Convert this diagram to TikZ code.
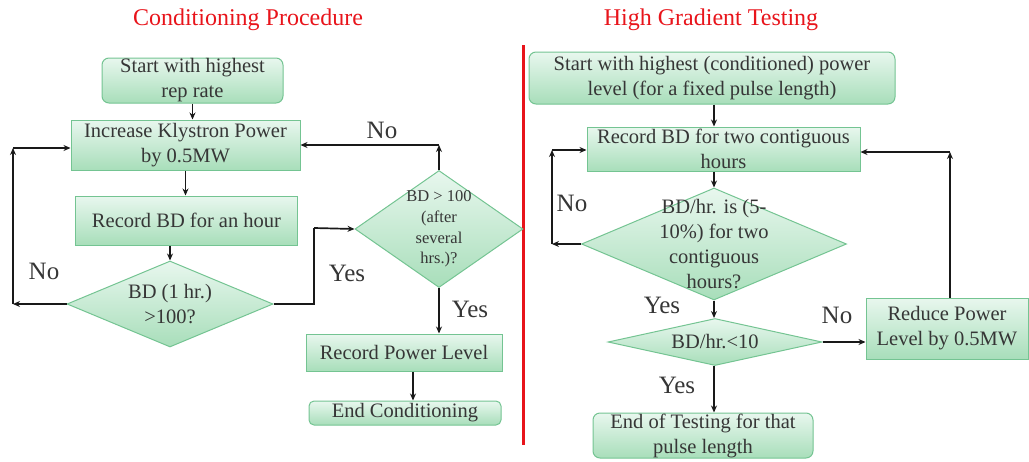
\documentclass[tikz,border=0pt]{standalone}
\usepackage{fontspec}
\setmainfont{Liberation Serif}
\newfontfamily\tnr{Liberation Serif}
\usetikzlibrary{shapes.geometric,arrows.meta}
\definecolor{gtop}{HTML}{E8F7EE}
\definecolor{gbot}{HTML}{A8DEBA}
\definecolor{gline}{HTML}{74C492}
\definecolor{txt}{HTML}{363636}
\definecolor{titlered}{HTML}{E8141B}
\begin{document}
\begin{tikzpicture}[x=1pt,y=-1pt,
  boxn/.style={draw=gline, line width=1pt, top color=gtop, bottom color=gbot,
    text=txt, align=center, inner sep=0pt, font=\tnr\fontsize{20.5}{25}\selectfont},
  rbox/.style={boxn, rounded corners=7pt},
  dia/.style={diamond, draw=gline, line width=1pt, top color=gtop, bottom color=gbot, inner sep=0pt},
  dtxt/.style={text=txt, align=center, inner sep=0pt, font=\tnr\fontsize{20.5}{25}\selectfont},
  lbl/.style={text=txt, inner sep=0pt, font=\tnr\fontsize{25}{28}\selectfont},
  ttl/.style={text=titlered, inner sep=0pt, font=\tnr\fontsize{24}{28}\selectfont},
  arr/.style={-{Stealth[length=7pt,width=6pt]}, line width=1.7pt, black!90},
  ln/.style={line width=1.7pt, black!90}]
\useasboundingbox (0,0) rectangle (1029,461);

% titles and divider
\node[ttl] (t1) at (248,20) {Conditioning Procedure};
\node[ttl] (t2) at (711,20) {High Gradient Testing};
\coordinate (redtop) at (523,45);
\coordinate (redbot) at (523,445);
\draw[titlered, line width=3pt] (redtop) -- (redbot);

% ---------- left flowchart ----------
\node[rbox, minimum width=181pt, minimum height=45pt] (sL) at (192.5,80.5) {Start with highest\\rep rate};
\node[boxn, minimum width=229pt, minimum height=50pt] (inc) at (185.5,145) {Increase Klystron Power\\by 0.5MW};
\node[boxn, minimum width=222pt, minimum height=49pt] (rec) at (186.5,220.5) {Record BD for an hour};
\node[dia, minimum width=206pt, minimum height=86pt] (d1) at (170,304) {};
\node[dtxt] (d1t) at (170,304) {BD (1 hr.)\\>100?};
\node[dia, minimum width=168pt, minimum height=117pt] (d2) at (439,229) {};
\node[dtxt, font=\tnr\fontsize{16.5}{20.7}\selectfont] (d2t) at (439,229) {BD > 100\\(after\\several\\hrs.)?};
\node[boxn, minimum width=196pt, minimum height=37pt] (rpl) at (404,352.5) {Record Power Level};
\node[rbox, rounded corners=5pt, minimum width=192pt, minimum height=24pt] (endc) at (405,413) {End Conditioning};

\draw[arr] (sL.south) -- (sL.south |- inc.north);
\draw[arr] (inc.south) -- (inc.south |- rec.north);
\draw[arr] (d1.north |- rec.south) -- (d1.north);

\coordinate (l1) at (13,304);
\coordinate (l2) at (13,148);
\draw[arr] (d1.west) -- (l1);
\draw[arr] (l1) -- (l2);
\draw[arr] (l2) -- (inc.west |- l2);
\node[lbl] (noL) at (44,271) {No};

\coordinate (y1) at (314,304);
\coordinate (y2) at (314,228);
\draw[ln] (d1.east) -- (y1) -- (y2);
\draw[arr] (y2) -- (d2.west);
\node[lbl] (yesL) at (347,273) {Yes};

\coordinate (n1) at (439,145);
\draw[arr] (d2.north) -- (n1);
\draw[arr] (n1) -- (inc.east |- n1);
\node[lbl] (noT) at (382,130) {No};

\draw[arr] (d2.south) -- (d2.south |- rpl.north);
\node[lbl] (yesD2) at (470,309) {Yes};
\draw[arr] ([xshift=9pt]rpl.south) -- ([xshift=9pt]rpl.south |- endc.north);

% ---------- right flowchart ----------
\node[rbox, minimum width=366pt, minimum height=52pt] (sR) at (712,78) {Start with highest (conditioned) power\\level (for a fixed pulse length)};
\node[boxn, minimum width=273pt, minimum height=44pt] (rec2) at (723.5,149) {Record BD for two contiguous\\hours};
\node[dia, minimum width=265pt, minimum height=112pt] (d3) at (714,244) {};
\node[dtxt] (d3t) at (714,244) {BD/hr. is (5-\\10\%) for two\\contiguous\\hours?};
\node[dia, minimum width=214pt, minimum height=47pt] (d4) at (715,342) {};
\node[dtxt] (d4t) at (715,342) {BD/hr.<10};
\node[boxn, minimum width=162pt, minimum height=61pt] (red) at (947,328.5) {Reduce Power\\Level by 0.5MW};
\node[rbox, minimum width=220pt, minimum height=45pt] (endt) at (703,435.5) {End of Testing for that\\pulse length};

\draw[arr] (d3.north |- sR.south) -- (d3.north |- rec2.north);
\draw[arr] (d3.north |- rec2.south) -- (d3.north);

\coordinate (r1) at (552,244);
\coordinate (r2) at (552,150);
\draw[arr] (d3.west) -- (r1);
\draw[arr] (r1) -- (r2);
\draw[arr] (r2) -- (rec2.west |- r2);
\node[lbl] (noR) at (572,203) {No};

\draw[arr] (d3.south) -- (d4.north -| d3.south);
\node[lbl] (yesD3) at (662,305) {Yes};

\draw[arr] (d4.east) -- (d4.east -| red.west);
\node[lbl] (noD4) at (837,315) {No};

\coordinate (u1) at (950,152);
\draw[arr] ([xshift=3pt]red.north) -- (u1);
\draw[arr] (u1) -- (rec2.east |- u1);

\draw[arr] (d4.south -| 714,0) -- (endt.north -| 714,0);
\node[lbl] (yesD4) at (677,385) {Yes};
\end{tikzpicture}
\end{document}
